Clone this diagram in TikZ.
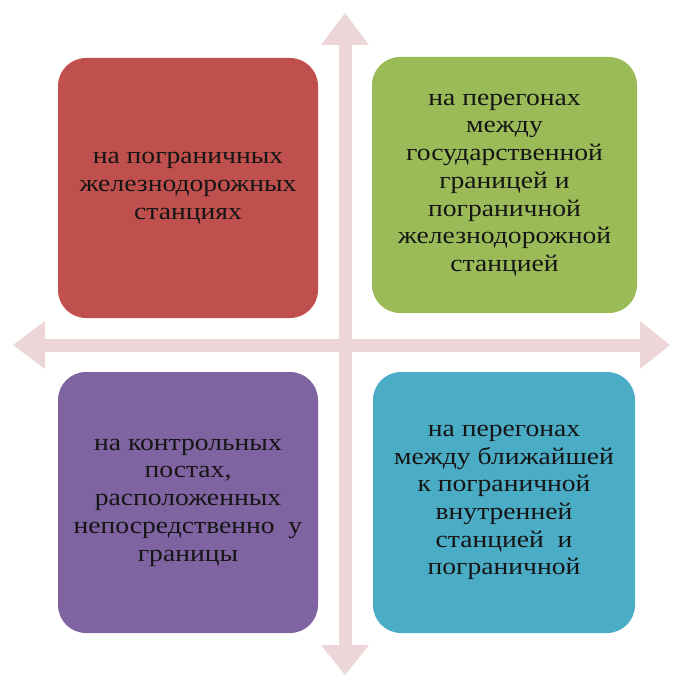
\documentclass[tikz,border=0pt]{standalone}
\usepackage{fontspec}
\setmainfont{Liberation Serif}[FakeStretch=1.15]
\usetikzlibrary{arrows.meta}
\definecolor{cred}{HTML}{C0504D}
\definecolor{cgreen}{HTML}{9BBB59}
\definecolor{cpurple}{HTML}{8064A2}
\definecolor{ccyan}{HTML}{4BACC6}
\definecolor{cpink}{HTML}{EDD6D7}
\definecolor{ctext}{HTML}{151515}
\tikzset{
  quad/.style={rounded corners=28pt, inner sep=0pt, text=ctext, align=center,
    font=\fontsize{24}{27.7}\selectfont},
  axis/.style={draw=cpink, line width=13pt,
    {Triangle[width=48pt,length=32pt,line width=0pt]}-{Triangle[width=48pt,length=30pt,line width=0pt]}}
}
\begin{document}
\begin{tikzpicture}[x=1pt,y=-1pt]
\useasboundingbox (0,0) rectangle (672,676);
\coordinate (top) at (345,13);
\coordinate (bottom) at (345,675);
\coordinate (left) at (13,345);
\coordinate (right) at (670,345);
\draw[axis] (top) -- (bottom);
\draw[axis] (left) -- (right);
\node[quad, fill=cred, minimum width=260pt, minimum height=260pt] (red) at (188,188)
  {на пограничных\\железнодорожных\\станциях};
\node[quad, fill=cgreen, minimum width=265pt, minimum height=256pt] (green) at (504.5,185)
  {на перегонах\\между\\государственной\\границей и\\пограничной\\железнодорожной\\станцией};
\node[quad, fill=cpurple, minimum width=260pt, minimum height=261pt] (purple) at (188,502.5)
  {на контрольных\\постах,\\расположенных\\непосредственно\ \ у\\границы};
\node[quad, fill=ccyan, minimum width=262pt, minimum height=261pt] (cyan) at (504,502.5)
  {на перегонах\\между ближайшей\\к пограничной\\внутренней\\станцией\ \ и\\пограничной};
\end{tikzpicture}
\end{document}
